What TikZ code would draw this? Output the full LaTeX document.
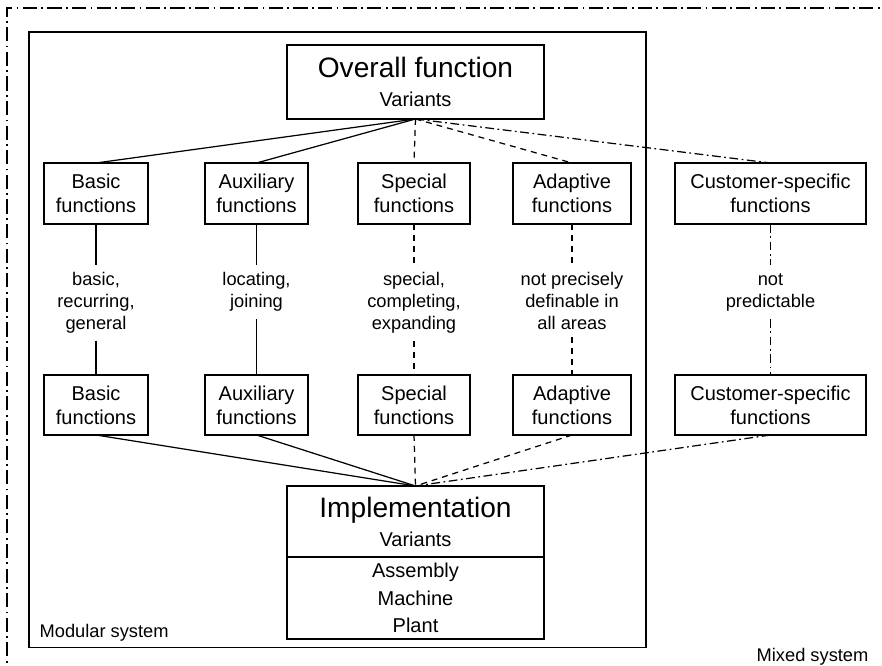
\documentclass[tikz,border=0pt]{standalone}
\usepackage{fontspec}
\setmainfont{Liberation Sans}
\usetikzlibrary{positioning}

\begin{document}
\begin{tikzpicture}[line width=0.7pt,
  fbox/.style={draw,line width=0.8pt,align=center,inner sep=2pt,outer sep=0pt,
    font=\fontsize{11.4}{13.7}\selectfont,minimum height=1.22cm},
  lbl/.style={align=center,anchor=north,inner xsep=2pt,inner ysep=4pt,
    font=\fontsize{10.4}{12.4}\selectfont},
  sys/.style={inner sep=0pt,font=\fontsize{10.4}{12.4}\selectfont},
  dashline/.style={dash pattern=on 3.4pt off 2.8pt},
  dotdash/.style={dash pattern=on 5pt off 2pt on 1pt off 2pt}]
  \useasboundingbox (0,0) rectangle (17.64,13.32);
  % marcos
  \draw[line width=0.8pt,dash pattern=on 8pt off 2.5pt on 1pt off 2.5pt] (0.14,-0.3) rectangle (17.9,13.16);
  \draw[line width=0.9pt] (0.58,0.37) rectangle (12.92,12.68);
  \node[sys,anchor=base west] (modular) at (0.78,0.56) {Modular system};
  \node[sys,anchor=base east] (mixed) at (17.38,0.08) {Mixed system};
  % overall function
  \node[fbox,minimum width=5.14cm,minimum height=1.48cm,font=\fontsize{11.4}{16.5}\selectfont] (overall) at (8.31,11.68)
    {{\fontsize{16}{16.5}\selectfont Overall function}\\Variants};
  % top row
  \node[fbox,minimum width=2.08cm] (bas1) at (1.92,9.45) {Basic\\functions};
  \node[fbox,minimum width=2.06cm] (aux1) at (5.13,9.45) {Auxiliary\\functions};
  \node[fbox,minimum width=2.24cm] (spe1) at (8.28,9.45) {Special\\functions};
  \node[fbox,minimum width=2.36cm] (ada1) at (11.44,9.45) {Adaptive\\functions};
  \node[fbox,minimum width=3.82cm] (cus1) at (15.41,9.45) {Customer-specific\\functions};
  % labels
  \node[lbl] (basl) at (1.92,8.02) {basic,\\recurring,\\general};
  \node[lbl] (auxl) at (5.13,8.02) {locating,\\joining};
  \node[lbl] (spel) at (8.28,8.02) {special,\\completing,\\expanding};
  \node[lbl] (adal) at (11.44,8.02) {not precisely\\definable in\\all areas};
  \node[lbl] (cusl) at (15.41,8.02) {\vphantom{l}not\\predictable};
  % bottom row
  \node[fbox,minimum width=2.08cm,minimum height=1.2cm] (bas2) at (1.92,5.22) {Basic\\functions};
  \node[fbox,minimum width=2.06cm,minimum height=1.2cm] (aux2) at (5.13,5.22) {Auxiliary\\functions};
  \node[fbox,minimum width=2.24cm,minimum height=1.2cm] (spe2) at (8.28,5.22) {Special\\functions};
  \node[fbox,minimum width=2.36cm,minimum height=1.2cm] (ada2) at (11.44,5.22) {Adaptive\\functions};
  \node[fbox,minimum width=3.82cm,minimum height=1.2cm] (cus2) at (15.41,5.22) {Customer-specific\\functions};
  % implementation
  \node[fbox,minimum width=5.14cm,minimum height=1.42cm,font=\fontsize{11.4}{16.5}\selectfont] (impl) at (8.31,2.89)
    {{\fontsize{16}{16.5}\selectfont Implementation}\\Variants};
  \node[fbox,minimum width=5.14cm,minimum height=1.64cm,font=\fontsize{11.4}{15.6}\selectfont,below=0pt of impl] (parts)
    {Assembly\\Machine\\Plant};
  % overall -> top row
  \draw (overall.south) -- (bas1.north);
  \draw (overall.south) -- (aux1.north);
  \draw[dashline] (overall.south) -- (spe1.north);
  \draw[dashline] (overall.south) -- (ada1.north);
  \draw[dotdash] (overall.south) -- (cus1.north);
  % verticals
  \draw (bas1) -- (basl) (basl) -- (bas2);
  \draw (aux1) -- (auxl) (auxl) -- (aux2);
  \draw[dashline] (spe1) -- (spel) (spel) -- (spe2);
  \draw[dashline] (ada1) -- (adal) (adal) -- (ada2);
  \draw[dotdash] (cus1) -- (cusl) (cusl) -- (cus2);
  % bottom row -> implementation
  \draw (bas2.south) -- (impl.north);
  \draw (aux2.south) -- (impl.north);
  \draw[dashline] (spe2.south) -- (impl.north);
  \draw[dashline] (ada2.south) -- (impl.north);
  \draw[dotdash] (cus2.south) -- (impl.north);
\end{tikzpicture}
\end{document}
